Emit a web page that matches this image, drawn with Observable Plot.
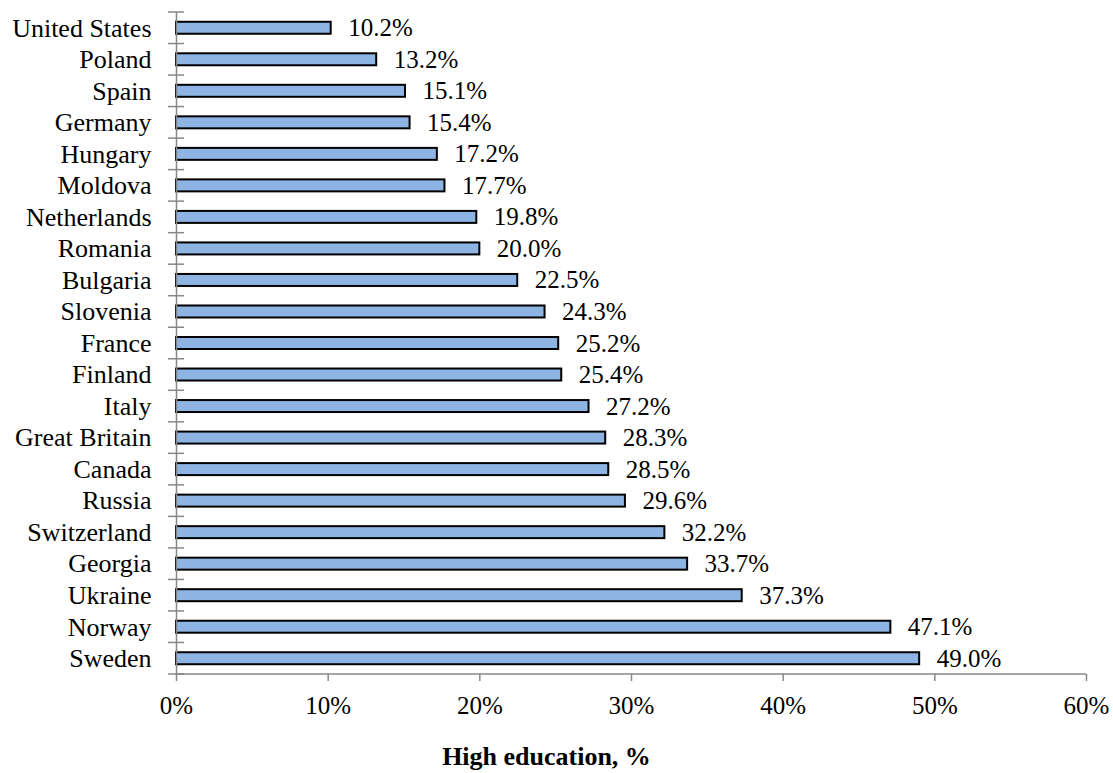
<!DOCTYPE html>
<html>
<head>
<meta charset="utf-8">
<script src="https://cdn.jsdelivr.net/npm/d3@7"></script>
<script src="https://cdn.jsdelivr.net/npm/@observablehq/plot@0.6"></script>
<style>
  html, body { margin: 0; padding: 0; background: #fff; }
  #chart { width: 1113px; height: 773px; }
</style>
</head>
<body>
<div id="chart"></div>
<script>
// Share of population with higher education, by country
const countries = [
  "United States", "Poland", "Spain", "Germany", "Hungary", "Moldova",
  "Netherlands", "Romania", "Bulgaria", "Slovenia", "France", "Finland",
  "Italy", "Great Britain", "Canada", "Russia", "Switzerland", "Georgia",
  "Ukraine", "Norway", "Sweden"
];
const shares = [
  10.2, 13.2, 15.1, 15.4, 17.2, 17.7,
  19.8, 20.0, 22.5, 24.3, 25.2, 25.4,
  27.2, 28.3, 28.5, 29.6, 32.2, 33.7,
  37.3, 47.1, 49.0
];
const xTicks = [0, 10, 20, 30, 40, 50, 60];
const xTitle = "High education, %";

const rows = countries.map((country, i) => ({country, value: shares[i]}));

const serif = "Liberation Serif";
const axisGray = "#878787";
const gap = 0.62;

// Category boundary ticks on the y axis plus the horizontal baseline
function categoryAxis(index, scales, values, dims) {
  const {x, y} = scales;
  const x0 = x(xTicks[0]);
  const half = (y.step() - y.bandwidth()) / 2;
  const bottom = dims.height - dims.marginBottom;
  const marks = countries.map(c => y(c) - half).concat([bottom]);
  const g = d3.create("svg:g")
    .attr("stroke", axisGray)
    .attr("stroke-width", 1.5)
    .attr("fill", "none");
  for (const yy of marks) {
    g.append("line")
      .attr("x1", x0 - 8).attr("x2", x0 + 8)
      .attr("y1", yy).attr("y2", yy);
  }
  g.append("line")
    .attr("x1", x0).attr("x2", x(xTicks[xTicks.length - 1]))
    .attr("y1", bottom).attr("y2", bottom);
  return g.node();
}

const plot = Plot.plot({
  width: 1113,
  height: 773,
  marginLeft: 176,
  marginRight: 27,
  marginTop: 12,
  marginBottom: 99,
  style: {
    color: "#000",
    background: "#fff",
    overflow: "visible"
  },
  x: {domain: [0, 60]},
  y: {domain: countries, paddingInner: gap, paddingOuter: gap / 2, round: false},
  marks: [
    Plot.axisY({tickSize: 0, tickPadding: 25, fontSize: 26, fontFamily: serif, label: null}),
    Plot.axisX({
      ticks: xTicks,
      tickFormat: d => d + "%",
      tickSize: 7,
      tickPadding: 15,
      stroke: axisGray,
      strokeWidth: 1.5,
      fontSize: 25,
      fontFamily: serif,
      label: null
    }),
    Plot.barX(rows, {
      x: "value",
      y: "country",
      fill: "#8db4e2",
      stroke: "#000",
      strokeWidth: 2
    }),
    Plot.ruleX([0], {stroke: axisGray, strokeWidth: 1.5}),
    categoryAxis,
    Plot.text(rows, {
      x: "value",
      y: "country",
      text: d => d.value.toFixed(1) + "%",
      textAnchor: "start",
      dx: 17,
      fontSize: 25,
      fontFamily: serif,
      fill: "#000"
    }),
    Plot.text([xTitle], {
      frameAnchor: "bottom",
      lineAnchor: "bottom",
      dx: -85,
      dy: 90,
      fontSize: 26,
      fontWeight: "bold",
      fontFamily: serif,
      fill: "#000"
    })
  ]
});

document.getElementById("chart").appendChild(plot);
</script>
</body>
</html>
